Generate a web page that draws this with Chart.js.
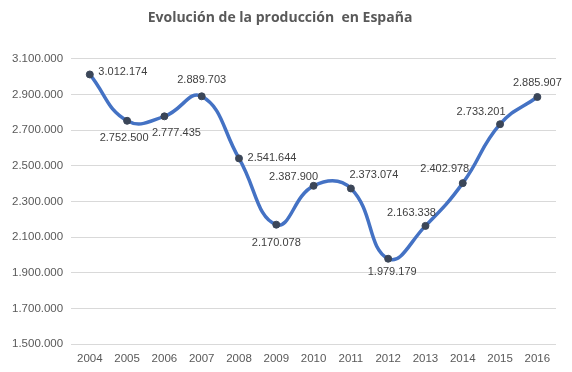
<!DOCTYPE html>
<html>
<head>
<meta charset="utf-8">
<script src="https://cdn.jsdelivr.net/npm/chart.js@4"></script>
<style>
  body { margin: 0; background: #fff; }
  #wrap { width: 572px; height: 372px; }
</style>
</head>
<body>
<div id="wrap"><canvas id="chart"></canvas></div>
<script>
const years = ['2004', '2005', '2006', '2007', '2008', '2009', '2010', '2011', '2012', '2013', '2014', '2015', '2016'];
const production = [3012174, 2752500, 2777435, 2889703, 2541644, 2170078, 2387900, 2373074, 1979179, 2163338, 2402978, 2733201, 2885907];
const yTicks = [1500000, 1700000, 1900000, 2100000, 2300000, 2500000, 2700000, 2900000, 3100000];

// where each value label sits relative to its point (dx, dy)
const labelOffsets = [
    [33, -2], [-3, 17], [12, 17], [0, -16], [33, 0], [0, 18], [-20, -9],
    [23, -13], [4, 13], [-14, -13], [-18, -14], [-19, -12], [0, -14]
];

function fmt(v) {
    return v.toString().replace(/\B(?=(\d{3})+(?!\d))/g, '.');
}

const valueLabels = {
    id: 'valueLabels',
    afterDatasetsDraw(chart) {
        const ctx = chart.ctx;
        const meta = chart.getDatasetMeta(0);
        ctx.save();
        ctx.font = '11px "Liberation Sans", Arial, sans-serif';
        ctx.fillStyle = '#404040';
        ctx.textAlign = 'center';
        ctx.textBaseline = 'middle';
        meta.data.forEach((pt, i) => {
            const off = labelOffsets[i];
            ctx.fillText(fmt(production[i]), pt.x + off[0], pt.y + off[1]);
        });
        ctx.restore();
    }
};

new Chart(document.getElementById('chart').getContext('2d'), {
    type: 'line',
    data: {
        labels: years,
        datasets: [{
            data: production,
            borderColor: '#4472C4',
            borderWidth: 3.5,
            tension: 0.45,
            pointRadius: 3.5,
            pointBorderWidth: 1,
            pointBackgroundColor: '#3B4658',
            pointBorderColor: '#3B4658',
            fill: false
        }]
    },
    options: {
        responsive: true,
        maintainAspectRatio: false,
        animation: false,
        layout: { padding: { left: 4, right: 16, top: 0, bottom: 6 } },
        plugins: {
            legend: { display: false },
            tooltip: { enabled: false },
            title: {
                display: true,
                text: 'Evolución de la producción  en España',
                color: '#595959',
                font: { family: '"Open Sans", sans-serif', size: 14, weight: 'bold' },
                padding: { top: 10, bottom: 32 }
            }
        },
        scales: {
            x: {
                offset: true,
                grid: { display: false },
                border: { display: false },
                ticks: { color: '#595959', font: { family: '"Liberation Sans", Arial, sans-serif', size: 11.5 }, padding: 0 }
            },
            y: {
                min: yTicks[0],
                max: yTicks[yTicks.length - 1],
                afterBuildTicks: (scale) => { scale.ticks = yTicks.map(v => ({ value: v })); },
                grid: { color: '#D9D9D9', lineWidth: 1, drawTicks: false },
                border: { display: false },
                ticks: {
                    color: '#595959',
                    font: { family: '"Liberation Sans", Arial, sans-serif', size: 11.5 },
                    padding: 8,
                    callback: (v) => fmt(v)
                }
            }
        }
    },
    plugins: [valueLabels]
});
</script>
</body>
</html>
